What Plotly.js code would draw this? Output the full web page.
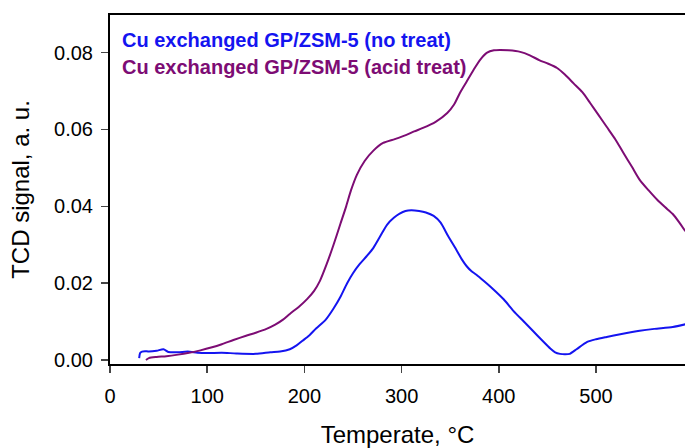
<!DOCTYPE html>
<html>
<head>
<meta charset="utf-8">
<script src="https://cdn.plot.ly/plotly-3.0.1.min.js"></script>
<style>html,body{margin:0;padding:0;background:#fff;}#chart{width:685px;height:448px;}</style>
</head>
<body>
<div id="chart"></div>
<script>
// Cu exchanged GP/ZSM-5 (no treat)
var tempNoTreat = [30, 31, 33, 36, 40, 48, 55, 60, 70, 80, 90, 100, 115, 130, 150, 165, 175, 185, 192, 198, 205, 212, 222, 230, 237, 244, 250, 257, 264, 271, 278, 285, 292, 298, 304, 310, 318, 325, 333, 340, 348, 357, 362, 367, 372, 377, 385, 394, 405, 415, 425, 435, 445, 453, 458, 463, 468, 473, 480, 491, 500, 511, 525, 545, 560, 579, 592];
var sigNoTreat  = [0.0005, 0.0018, 0.0022, 0.0023, 0.0022, 0.0024, 0.0028, 0.0021, 0.0020, 0.0022, 0.0019, 0.0018, 0.0019, 0.0017, 0.0016, 0.0020, 0.0022, 0.0028, 0.0038, 0.0050, 0.0064, 0.0082, 0.0105, 0.0134, 0.0164, 0.0200, 0.0226, 0.0250, 0.0270, 0.0292, 0.0322, 0.0352, 0.0370, 0.0381, 0.0388, 0.0390, 0.0388, 0.0384, 0.0375, 0.0358, 0.0322, 0.0284, 0.0262, 0.0244, 0.0231, 0.0222, 0.0205, 0.0185, 0.0158, 0.0128, 0.0102, 0.0076, 0.0050, 0.0030, 0.0020, 0.0016, 0.0015, 0.0016, 0.0028, 0.0047, 0.0054, 0.0060, 0.0067, 0.0076, 0.0081, 0.0086, 0.0093];

// Cu exchanged GP/ZSM-5 (acid treat)
var tempAcid = [37, 40, 48, 58, 70, 80, 93, 105, 115, 127, 140, 150, 161, 170, 178, 185, 195, 203, 210, 216, 223, 230, 237, 243, 248, 254, 262, 271, 281, 293, 305, 313, 322, 335, 347, 354, 360, 367, 374, 381, 388, 395, 401, 410, 422, 432, 442, 451, 460, 468, 477, 486, 494, 502, 511, 520, 528, 537, 545, 554, 563, 571, 579, 586, 592];
var sigAcid  = [0.0000, 0.0005, 0.0008, 0.0010, 0.0014, 0.0018, 0.0025, 0.0033, 0.0041, 0.0052, 0.0063, 0.0071, 0.0081, 0.0092, 0.0105, 0.0120, 0.0140, 0.0159, 0.0180, 0.0206, 0.0250, 0.0300, 0.0354, 0.0400, 0.0442, 0.0482, 0.0518, 0.0545, 0.0565, 0.0575, 0.0586, 0.0595, 0.0604, 0.0620, 0.0643, 0.0665, 0.0695, 0.0725, 0.0755, 0.0782, 0.0800, 0.0806, 0.0807, 0.0806, 0.0802, 0.0793, 0.0780, 0.0771, 0.0760, 0.0743, 0.0720, 0.0697, 0.0669, 0.0640, 0.0607, 0.0574, 0.0540, 0.0503, 0.0469, 0.0442, 0.0417, 0.0398, 0.0380, 0.0357, 0.0335];

var labelNoTreat = 'Cu exchanged GP/ZSM-5 (no treat)';
var labelAcid = 'Cu exchanged GP/ZSM-5 (acid treat)';
var xTicks = [0, 100, 200, 300, 400, 500];
var yTicks = [0.00, 0.02, 0.04, 0.06, 0.08];
var yTickText = ['0.00', '0.02', '0.04', '0.06', '0.08'];

var blue = '#1414f0';
var purple = '#7d0c74';

var traces = [
  {x: tempNoTreat, y: sigNoTreat, mode: 'lines', line: {color: blue, width: 2, shape: 'spline', smoothing: 0.7}, name: labelNoTreat, showlegend: false},
  {x: tempAcid, y: sigAcid, mode: 'lines', line: {color: purple, width: 2, shape: 'spline', smoothing: 0.7}, name: labelAcid, showlegend: false}
];

var layout = {
  width: 685, height: 448,
  margin: {l: 110, r: 0, t: 15, b: 84},
  paper_bgcolor: '#fff', plot_bgcolor: '#fff',
  font: {family: 'Liberation Sans, Arial, sans-serif', color: '#000'},
  xaxis: {
    range: [0, 591.6], tickvals: xTicks, ticks: 'outside', ticklen: 7, tickwidth: 1.5,
    showline: true, linewidth: 2, linecolor: '#000', mirror: true, showgrid: false, zeroline: false,
    tickfont: {size: 20}, ticklabelstandoff: 6,
    title: {text: 'Temperate, °C', font: {size: 24}, standoff: 20}
  },
  yaxis: {
    range: [-0.00104, 0.0898], tickvals: yTicks, ticktext: yTickText, ticks: 'outside', ticklen: 7, tickwidth: 1.5,
    showline: true, linewidth: 2, linecolor: '#000', mirror: false, showgrid: false, zeroline: false,
    tickfont: {size: 20}, ticklabelstandoff: 4,
    title: {text: 'TCD signal, a. u.', font: {size: 24}, standoff: 18}
  },
  annotations: [
    {xref: 'paper', yref: 'paper', x: 0.017, y: 0.928, xanchor: 'left', yanchor: 'middle', showarrow: false,
     text: '<b>' + labelNoTreat + '</b>', font: {size: 20, color: blue}},
    {xref: 'paper', yref: 'paper', x: 0.017, y: 0.851, xanchor: 'left', yanchor: 'middle', showarrow: false,
     text: '<b>' + labelAcid + '</b>', font: {size: 20, color: purple}}
  ]
};

Plotly.newPlot('chart', traces, layout, {displayModeBar: false, staticPlot: true});
</script>
</body>
</html>
